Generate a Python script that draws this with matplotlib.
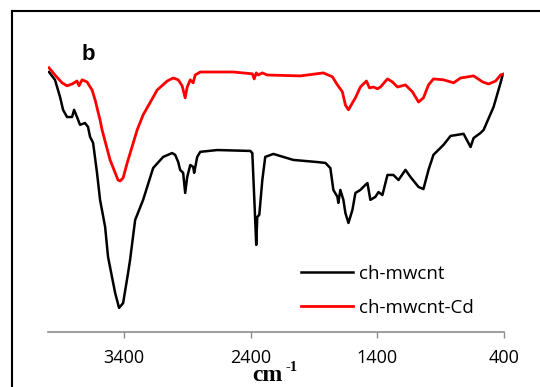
import matplotlib
matplotlib.use("Agg")
import matplotlib.pyplot as plt
from matplotlib.lines import Line2D

plt.rcParams['font.family'] = ['Open Sans', 'DejaVu Sans']

# FTIR spectra (wavenumber cm-1, transmittance a.u.)
wn_red = [3992, 3945, 3889, 3850, 3810, 3771, 3755, 3731, 3692, 3652, 3628, 3589,
          3573, 3510, 3447, 3431, 3407, 3375, 3296, 3249, 3138, 3059, 3012, 2972,
          2941, 2917, 2901, 2877, 2854, 2838, 2798, 2538, 2387, 2372, 2356, 2340,
          2308, 2269, 2008, 1826, 1755, 1715, 1676, 1652, 1628, 1597, 1573, 1534,
          1486, 1462, 1431, 1399, 1375, 1320, 1281, 1241, 1178, 1123, 1075, 1036,
          996, 957, 878, 798, 743, 640, 569, 522, 466, 427, 400]
t_red = [90.7, 88.3, 85.7, 84.7, 85.3, 86.3, 84.7, 86.7, 86.0, 83.3, 80.0, 73.3,
         70.0, 60.0, 53.3, 53.0, 54.0, 59.0, 70.0, 75.0, 83.3, 86.3, 87.3, 86.7,
         84.7, 80.7, 84.3, 86.7, 85.7, 88.3, 89.3, 89.3, 88.7, 87.0, 89.0, 88.3,
         89.0, 88.3, 88.0, 89.0, 87.7, 85.0, 82.7, 78.3, 76.7, 79.0, 80.7, 84.3,
         86.3, 84.0, 84.3, 83.7, 84.3, 87.0, 86.0, 84.3, 85.0, 82.7, 79.3, 80.7,
         85.0, 87.0, 86.7, 85.7, 87.3, 88.0, 86.0, 85.3, 86.3, 88.3, 88.7]

wn_black = [3992, 3945, 3905, 3881, 3850, 3810, 3794, 3771, 3747, 3708, 3684, 3668,
            3644, 3613, 3589, 3549, 3526, 3470, 3439, 3407, 3368, 3352, 3312, 3249,
            3170, 3091, 3020, 2996, 2972, 2957, 2933, 2917, 2901, 2877, 2854, 2846,
            2822, 2798, 2664, 2403, 2387, 2372, 2356, 2348, 2332, 2308, 2285, 2221,
            2142, 2063, 1874, 1810, 1771, 1747, 1715, 1708, 1692, 1668, 1652, 1628,
            1597, 1573, 1534, 1494, 1478, 1455, 1415, 1391, 1360, 1320, 1273, 1233,
            1178, 1138, 1075, 1036, 996, 957, 878, 822, 719, 664, 640, 585, 561,
            482, 427, 411]
t_black = [89.3, 86.7, 81.0, 76.7, 74.3, 74.3, 76.7, 74.3, 71.7, 72.3, 71.0, 67.7,
           65.7, 55.7, 46.7, 37.7, 27.7, 15.7, 10.7, 12.3, 22.3, 26.7, 40.0, 46.7,
           57.3, 61.0, 62.3, 61.7, 59.3, 56.7, 55.7, 49.0, 54.3, 58.3, 57.7, 55.7,
           61.0, 62.7, 63.3, 63.0, 62.3, 47.7, 31.7, 41.0, 41.7, 53.3, 61.0, 62.0,
           61.0, 60.0, 59.3, 59.0, 57.3, 50.0, 47.7, 45.7, 50.0, 46.7, 42.3, 39.0,
           43.3, 49.0, 50.0, 51.7, 52.3, 46.7, 47.7, 49.3, 48.3, 55.0, 55.0, 53.3,
           56.7, 54.3, 51.0, 50.3, 56.7, 61.7, 65.0, 68.0, 68.7, 64.3, 67.3, 69.0,
           70.0, 77.7, 85.7, 88.3]

labels = ['ch-mwcnt', 'ch-mwcnt-Cd']
xticks = [3400, 2400, 1400, 400]

fig = plt.figure(figsize=(5.4, 3.87), dpi=100)
ax = fig.add_axes([48 / 540, 55 / 387, 456 / 540, 272 / 387])

ax.plot(wn_black, t_black, color='black', lw=1.8, label=labels[0])
ax.plot(wn_red, t_red, color='#ff0000', lw=2.0, label=labels[1])

ax.set_xlim(4000, 400)
ax.set_ylim(2.67, 93.3)
ax.set_xticks(xticks)
ax.set_xticklabels([str(t) for t in xticks])
ax.set_yticks([])
for s in ['left', 'right', 'top']:
    ax.spines[s].set_visible(False)
ax.spines['bottom'].set_color('#8c8c8c')
ax.spines['bottom'].set_linewidth(1.2)
ax.tick_params(axis='x', direction='out', length=4.5, width=1.0,
               color='#8c8c8c', labelsize=13, pad=8)

# axis title "cm -1" (superscript drawn as its own text)
fig.text(252 / 540, 1 - 381 / 387, 'cm', fontfamily='Liberation Serif',
         fontweight='bold', fontsize=17, va='baseline')
fig.text(285 / 540, 1 - 371 / 387, '-1', fontfamily='Liberation Serif',
         fontweight='bold', fontsize=10.5, va='baseline')

ax.legend(loc='upper left', bbox_to_anchor=(284 / 540, 1 - 248 / 387),
          bbox_transform=fig.transFigure, frameon=False, fontsize=13.5,
          handlelength=2.8, handletextpad=0.3, labelspacing=0.85)

# chart-area frame (only top and left edges visible)
fig.add_artist(Line2D([12 / 540, 12 / 540], [0, 1 - 11 / 387], color='black', lw=1.5))
fig.add_artist(Line2D([12 / 540, 1], [1 - 11 / 387, 1 - 11 / 387], color='black', lw=1.5))

fig.text(82 / 540, 1 - 60 / 387, 'b', fontsize=16, fontweight='bold',
         fontfamily=['Liberation Sans'], va='baseline')

fig.savefig('out.png', dpi=100)
